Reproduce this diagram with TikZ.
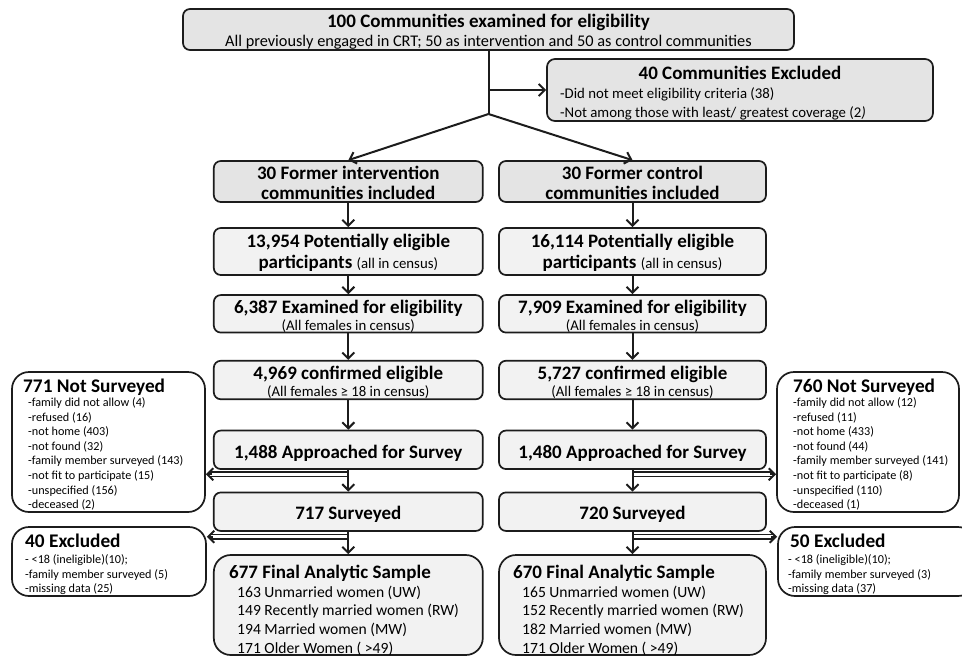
\documentclass[tikz,border=0pt]{standalone}
\usepackage{fontspec}
\setmainfont{Carlito}
\usetikzlibrary{arrows.meta,calc}
\newcommand\fz[2]{\fontsize{#1}{#2}\selectfont}
\definecolor{gA}{HTML}{E4E4E4}
\definecolor{gB}{HTML}{F2F2F2}
\definecolor{lnc}{HTML}{1C1C1C}
\begin{document}
\begin{tikzpicture}[x=1pt,y=-1pt,
  gbox/.style={draw=lnc, line width=1.7pt, rounded corners=7pt, fill=gA, inner sep=0pt},
  lbox/.style={draw=lnc, line width=1.7pt, rounded corners=7pt, fill=gB, inner sep=0pt},
  wbox/.style={draw=lnc, line width=1.7pt, rounded corners=17pt, fill=white, inner sep=0pt},
  fbox/.style={draw=lnc, line width=1.7pt, rounded corners=17pt, fill=gB, inner sep=0pt},
  conn/.style={draw=lnc, line width=2pt},
  dconn/.style={draw=lnc, line width=1.5pt},
  arr/.style={draw=lnc, line width=2pt, -{Straight Barb[length=6pt,width=12pt]}},
  tt/.style={inner sep=0pt, anchor=base, font=\fz{19}{22}\bfseries},
  st/.style={inner sep=0pt, anchor=base, font=\fz{14.8}{17}},
  ht/.style={inner sep=0pt, anchor=base west, font=\fz{19.3}{22}\bfseries},
  it/.style={inner sep=0pt, anchor=base west, font=\fz{12.2}{14}},
  ft/.style={inner sep=0pt, anchor=base west, font=\fz{15.6}{18}}]
\clip (0,0) rectangle (962,657);
\fill[white] (0,0) rectangle (962,657);

% top
\node[gbox, minimum width=611pt, minimum height=41pt] (top) at (488.5,29.5) {};
\node[tt] (topT) at (488.5,27.5) {100 Communities examined for eligibility};
\node[st, font=\fz{16.3}{18}] (topS) at (488.5,46.5) {All previously engaged in CRT; 50 as intervention and 50 as control communities};

% excluded communities
\node[gbox, rounded corners=8pt, minimum width=386pt, minimum height=62pt] (exc) at (740,90) {};
\node[tt] (excT) at (740,79.5) {40 Communities Excluded};
\node[inner sep=0pt, anchor=base west, font=\fz{14.8}{17}] (excA) at (560,98) {-Did not meet eligibility criteria (38)};
\node[inner sep=0pt, anchor=base west, font=\fz{14.8}{17}] (excB) at (560,117.5) {-Not among those with least/ greatest coverage (2\textit{)}};

% columns
\foreach \n/\x/\w in {L/348.3/269, R/632.5/267} {
  \node[gbox, minimum width=\w pt, minimum height=41pt] (f\n) at (\x,181.5) {};
  \node[lbox, minimum width=\w pt, minimum height=47pt] (p\n) at (\x,251.5) {};
  \node[lbox, minimum width=\w pt, minimum height=37.5pt] (e\n) at (\x,313.8) {};
  \node[lbox, minimum width=\w pt, minimum height=38.5pt] (c\n) at (\x,380) {};
  \node[lbox, minimum width=\w pt, minimum height=38.5pt] (a\n) at (\x,449.8) {};
  \node[lbox, minimum width=\w pt, minimum height=38.5pt] (s\n) at (\x,511.7) {};
  \node[fbox, minimum width=\w pt, minimum height=100pt] (n\n) at (\x,605) {};
}

% left column texts
\node[tt] (fLa) at (348.3,179) {30 Former intervention};
\node[tt] (fLb) at (348.3,199) {communities included};
\node[tt] (pLa) at (348.3,247) {13,954 Potentially eligible};
\node[tt] (pLb) at (348.3,268) {participants {\fz{14.8}{17}\mdseries(all in census)}};
\node[tt] (eLa) at (348.3,313) {6,387 Examined for eligibility};
\node[st] (eLb) at (348.3,330) {(All females in census)};
\node[tt] (cLa) at (348.3,379) {4,969 confirmed eligible};
\node[st] (cLb) at (348.3,396.5) {(All females ≥ 18 in census)};
\node[tt] (aLa) at (348.3,458) {1,488 Approached for Survey};
\node[tt] (sLa) at (348.3,519) {717 Surveyed};
\node[ht, font=\fz{19}{22}\bfseries] (nLa) at (229,578) {677 Final Analytic Sample};
\foreach \t [count=\i] in {163 Unmarried women (UW), 149 Recently married women (RW), 194 Married women (MW), 171 Older Women ( >49)}
  \node[ft] (nLi\i) at (237,{597+(\i-1)*18.7}) {\t};

% right column texts
\node[tt] (fRa) at (632.5,179) {30 Former control};
\node[tt] (fRb) at (632.5,199) {communities included};
\node[tt] (pRa) at (632.5,247) {16,114 Potentially eligible};
\node[tt] (pRb) at (632.5,268) {participants {\fz{14.8}{17}\mdseries(all in census)}};
\node[tt] (eRa) at (632.5,313) {7,909 Examined for eligibility};
\node[st] (eRb) at (632.5,330) {(All females in census)};
\node[tt] (cRa) at (632.5,379) {5,727 confirmed eligible};
\node[st] (cRb) at (632.5,396.5) {(All females ≥ 18 in census)};
\node[tt] (aRa) at (632.5,458) {1,480 Approached for Survey};
\node[tt] (sRa) at (632.5,519) {720 Surveyed};
\node[ht, font=\fz{19}{22}\bfseries] (nRa) at (513,578) {670 Final Analytic Sample};
\foreach \t [count=\i] in {165 Unmarried women (UW), 152 Recently married women (RW), 182 Married women (MW), 171 Older Women ( >49)}
  \node[ft] (nRi\i) at (522,{597+(\i-1)*18.7}) {\t};

% side boxes
\node[wbox, minimum width=193pt, minimum height=140pt] (ns1) at (108.5,442) {};
\node[ht] (ns1T) at (23,392) {771 Not Surveyed};
\foreach \t [count=\i] in {-family did not allow (4), -refused (16), -not home (403), -not found (32), -family member surveyed (143), -not fit to participate (15), -unspecified (156), -deceased (2)}
  \node[it] (ns1i\i) at (28,{406.5+(\i-1)*14.6}) {\t};

\node[wbox, minimum width=182pt, minimum height=140pt] (ns2) at (868,442) {};
\node[ht] (ns2T) at (793,392) {760 Not Surveyed};
\foreach \t [count=\i] in {-family did not allow (12), -refused (11), -not home (433), -not found (44), -family member surveyed (141), -not fit to participate (8), -unspecified (110), -deceased (1)}
  \node[it] (ns2i\i) at (793,{406.5+(\i-1)*14.6}) {\t};

\node[wbox, minimum width=194pt, minimum height=69pt] (ex1) at (109,561.5) {};
\node[ht] (ex1T) at (25,547.5) {40 Excluded};
\foreach \t [count=\i] in {- <18 (ineligible)(10);, -family member surveyed (5), -missing data (25)}
  \node[it] (ex1i\i) at (25,{563.5+(\i-1)*14.6}) {\t};

\node[wbox, minimum width=197pt, minimum height=69pt] (ex2) at (876.5,561.5) {};
\node[ht] (ex2T) at (790,547.5) {50 Excluded};
\foreach \t [count=\i] in {- <18 (ineligible)(10);, -family member surveyed (3), -missing data (37)}
  \node[it] (ex2i\i) at (788,{563.5+(\i-1)*14.6}) {\t};

% top connectors
\coordinate (mid) at (488.5,90);
\coordinate (fork) at (488.5,114);
\draw[conn] (top.south) -- (fork);
\draw[arr] (mid) -- (exc.west);
\draw[arr] (fork) -- (fL.north);
\draw[arr] (fork) -- (fR.north);

% vertical connectors
\foreach \n in {L,R} {
  \draw[arr] (f\n.south) -- (p\n.north);
  \draw[arr] (p\n.south) -- (e\n.north);
  \draw[arr] (e\n.south) -- (c\n.north);
  \draw[arr] (c\n.south) -- (a\n.north);
  \draw[arr] (a\n.south) -- (s\n.north);
  \draw[arr] (s\n.south) -- (n\n.north);
}

% double side connectors
\coordinate (q1) at (348.3,472); \coordinate (q2) at (348.3,476.5); \coordinate (qm) at (348.3,474.25);
\draw[dconn] (q1) -- ($(ns1.east |- q1)+(4,0)$);
\draw[dconn] (q2) -- ($(ns1.east |- q2)+(4,0)$);
\draw[arr] ($(ns1.east |- qm)+(6,0)$) -- (ns1.east |- qm);

\coordinate (r1) at (632.5,472); \coordinate (r2) at (632.5,476.5); \coordinate (rm) at (632.5,474.25);
\draw[dconn] (r1) -- ($(ns2.west |- r1)+(-4,0)$);
\draw[dconn] (r2) -- ($(ns2.west |- r2)+(-4,0)$);
\draw[arr] ($(ns2.west |- rm)+(-6,0)$) -- (ns2.west |- rm);

\coordinate (u1) at (348.3,534.5); \coordinate (u2) at (348.3,539); \coordinate (um) at (348.3,536.75);
\draw[dconn] (u1) -- ($(ex1.east |- u1)+(4,0)$);
\draw[dconn] (u2) -- ($(ex1.east |- u2)+(4,0)$);
\draw[arr] ($(ex1.east |- um)+(6,0)$) -- (ex1.east |- um);

\coordinate (v1) at (632.5,534.5); \coordinate (v2) at (632.5,539); \coordinate (vm) at (632.5,536.75);
\draw[dconn] (v1) -- ($(ex2.west |- v1)+(-4,0)$);
\draw[dconn] (v2) -- ($(ex2.west |- v2)+(-4,0)$);
\draw[arr] ($(ex2.west |- vm)+(-6,0)$) -- (ex2.west |- vm);
\end{tikzpicture}
\end{document}
